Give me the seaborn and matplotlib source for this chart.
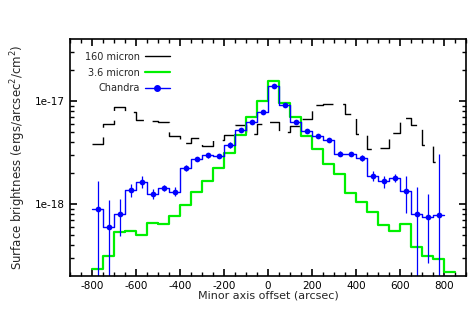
import numpy as np
import matplotlib
matplotlib.use('Agg')
import matplotlib.pyplot as plt
import seaborn as sns
from matplotlib.lines import Line2D
from matplotlib.ticker import MultipleLocator, FixedLocator, NullFormatter, FuncFormatter

# bin centres along the minor axis (arcsec), bins are 50 arcsec wide
offset = [-775, -725, -675, -625, -575, -525, -475, -425, -375, -325, -275, -225,
          -175, -125, -75, -25, 25, 75, 125, 175, 225, 275, 325, 375,
          425, 475, 525, 575, 625, 675, 725, 775]
offset_irac = offset + [825]
bin_width = 50

# 160 micron profile
far_ir = [3.86e-18, 6.0e-18, 8.7e-18, 7.9e-18, 6.56e-18, 6.33e-18, 6.23e-18, 4.61e-18,
          3.95e-18, 4.38e-18, 3.69e-18, 4.16e-18, 4.71e-18, 5.88e-18, 4.78e-18, 6.0e-18,
          6.28e-18, 4.98e-18, 5.75e-18, 6.71e-18, 9.16e-18, 9.36e-18, 9.36e-18, 7.5e-18,
          4.82e-18, 3.45e-18, 3.51e-18, 4.89e-18, 6.87e-18, 5.88e-18, 3.78e-18, 2.57e-18]

# 3.6 micron profile
irac = [2.34e-19, 3.11e-19, 5.34e-19, 5.42e-19, 4.96e-19, 6.57e-19, 6.43e-19, 7.72e-19,
        9.78e-19, 1.31e-18, 1.68e-18, 2.22e-18, 3.14e-18, 4.71e-18, 6.97e-18, 1.0e-17,
        1.58e-17, 9.63e-18, 7.06e-18, 4.54e-18, 3.43e-18, 2.46e-18, 1.94e-18, 1.29e-18,
        1.04e-18, 8.31e-19, 6.19e-19, 5.42e-19, 6.43e-19, 3.78e-19, 3.11e-19, 2.9e-19,
        2.16e-19]

# Chandra profile and errors
chandra = [8.95e-19, 5.97e-19, 8.0e-19, 1.37e-18, 1.65e-18, 1.25e-18, 1.44e-18, 1.32e-18,
           2.23e-18, 2.75e-18, 2.96e-18, 2.92e-18, 3.75e-18, 5.26e-18, 6.25e-18, 7.89e-18,
           1.41e-17, 9.18e-18, 6.28e-18, 5.08e-18, 4.57e-18, 4.15e-18, 3.09e-18, 3.05e-18,
           2.79e-18, 1.87e-18, 1.66e-18, 1.78e-18, 1.34e-18, 8.0e-19, 7.55e-19, 7.73e-19]
chandra_err = [7.8e-19, 4.9e-19, 3.1e-19, 2.0e-19, 2.1e-19, 1.4e-19, 1.0e-19, 1.3e-19,
               1.6e-19, 1.4e-19, 1.5e-19, 1.5e-19, 2.6e-19, 2.6e-19, 2.5e-19, 3.2e-19,
               5.0e-19, 3.7e-19, 2.5e-19, 2.0e-19, 1.8e-19, 1.7e-19, 1.6e-19, 1.5e-19,
               1.9e-19, 2.0e-19, 2.2e-19, 1.6e-19, 5.3e-19, 6.7e-19, 4.9e-19, 2.26e-18]

y_major = [1e-18, 1e-17]
y_minor = [3e-19, 4e-19, 5e-19, 6e-19, 7e-19, 8e-19, 9e-19,
           2e-18, 3e-18, 4e-18, 5e-18, 6e-18, 7e-18, 8e-18, 9e-18,
           2e-17, 3e-17]

sns.set_style('ticks', {'xtick.direction': 'in', 'ytick.direction': 'in'})
plt.rcParams['font.family'] = ['DejaVu Sans']
plt.rcParams['mathtext.default'] = 'regular'
plt.rcParams['axes.unicode_minus'] = False


def step_xy(centres, values):
    # bin edges and values for a full-width histogram step
    edges = [c - bin_width / 2 for c in centres] + [centres[-1] + bin_width / 2]
    return edges, list(values) + [values[-1]]


fig = plt.figure(figsize=(4.77, 3.34), dpi=100)
ax = fig.add_axes([0.147, 0.174, 0.83, 0.709])

x, y = step_xy(offset, far_ir)
sns.lineplot(x=x, y=y, ax=ax, color='black', linewidth=1.0, drawstyle='steps-post',
             linestyle=(0, (13, 7)), sort=False)

x, y = step_xy(offset_irac, irac)
sns.lineplot(x=x, y=y, ax=ax, color='#00f000', linewidth=1.6, drawstyle='steps-post', sort=False)

x, y = step_xy(offset, chandra)
sns.lineplot(x=x, y=y, ax=ax, color='blue', linewidth=1.0, drawstyle='steps-post', sort=False)
ax.errorbar(offset, chandra, yerr=chandra_err, fmt='none', ecolor='blue', elinewidth=0.9, capsize=0)
sns.scatterplot(x=offset, y=chandra, ax=ax, color='blue', s=17, edgecolor='blue', linewidth=0, zorder=5)

ax.set_yscale('log')
ax.set_xlim(-900, 900)
ax.set_ylim(2e-19, 4e-17)

ax.xaxis.set_major_locator(MultipleLocator(200))
ax.xaxis.set_minor_locator(MultipleLocator(50))
ax.yaxis.set_major_locator(FixedLocator(y_major))
ax.yaxis.set_minor_locator(FixedLocator(y_minor))
ax.yaxis.set_major_formatter(FuncFormatter(lambda v, p: '%.0e' % v))
ax.yaxis.set_minor_formatter(NullFormatter())
ax.tick_params(which='both', top=True, right=True, labelsize=7.5, colors='black')
ax.tick_params(which='major', length=5, width=1.2)
ax.tick_params(which='minor', length=3, width=1.0)
for s in ax.spines.values():
    s.set_linewidth(1.2)
    s.set_color('black')

ax.set_xlabel('Minor axis offset (arcsec)', fontsize=8, labelpad=0)
ax.set_ylabel('Surface brightness (ergs/arcsec$^2$/cm$^2$)', fontsize=8.5, labelpad=5)

handles = [Line2D([], [], color='black', linewidth=1.0),
           Line2D([], [], color='#00f000', linewidth=1.6),
           Line2D([], [], color='blue', linewidth=1.0, marker='o', markersize=4)]
ax.legend(handles, ['160 micron', '3.6 micron', 'Chandra'], loc='upper left',
          bbox_to_anchor=(0.02, 0.975), markerfirst=False, frameon=False, fontsize=7,
          handlelength=2.6, handletextpad=0.5, labelspacing=0.6, borderaxespad=0.3)

fig.savefig('out.png', dpi=100)
